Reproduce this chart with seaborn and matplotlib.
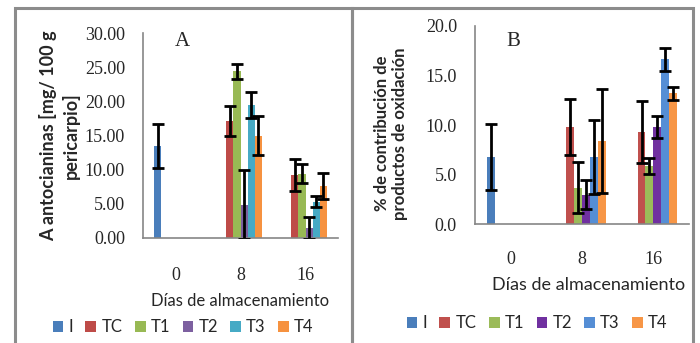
"""
Antocianinas y productos de oxidación durante el almacenamiento (paneles A y B).
"""

import matplotlib
matplotlib.use("Agg")
import matplotlib.pyplot as plt
from matplotlib.container import BarContainer
from matplotlib.patches import Patch, Rectangle
import numpy as np
import pandas as pd
import seaborn as sns

DAYS = ["0", "8", "16"]
TREATMENTS = ["I", "TC", "T1", "T2", "T3", "T4"]

# panel A: antocianinas [mg/100 g pericarpio], one row per treatment, columns = days
antoc_mean = [
    [13.5, np.nan, np.nan],
    [np.nan, 17.1, 9.2],
    [np.nan, 24.4, 9.4],
    [np.nan, 4.9, 1.5],
    [np.nan, 19.4, 5.3],
    [np.nan, 15.0, 7.6],
]
antoc_err = [
    [3.2, np.nan, np.nan],
    [np.nan, 2.2, 2.3],
    [np.nan, 1.1, 1.4],
    [np.nan, 5.0, 1.6],
    [np.nan, 1.9, 0.8],
    [np.nan, 2.9, 1.9],
]

# panel B: % contribución de productos de oxidación
oxid_mean = [
    [6.8, np.nan, np.nan],
    [np.nan, 9.8, 9.3],
    [np.nan, 3.7, 5.9],
    [np.nan, 3.0, 9.8],
    [np.nan, 6.8, 16.6],
    [np.nan, 8.4, 13.2],
]
oxid_err = [
    [3.3, np.nan, np.nan],
    [np.nan, 2.8, 3.1],
    [np.nan, 2.6, 0.8],
    [np.nan, 1.5, 1.15],
    [np.nan, 3.7, 1.15],
    [np.nan, 5.2, 0.65],
]

COLORS_A = ["#4A7EBB", "#BE4B48", "#98B954", "#7D60A0", "#46AAC5", "#F69240"]
COLORS_B = ["#4A7EBB", "#C0504D", "#9BBB59", "#7030A0", "#558ED5", "#F79646"]

SERIF = ["Liberation Serif", "DejaVu Serif"]
SANS = ["Lato", "DejaVu Sans"]
AXIS_GRAY = "#868686"


def to_long(mean):
    rows = []
    for t, vals in zip(TREATMENTS, mean):
        for d, v in zip(DAYS, vals):
            rows.append({"dia": d, "trat": t, "valor": 0.0 if np.isnan(v) else v})
    return pd.DataFrame(rows)


def draw_panel(ax, mean, err, colors, ymax, fmt):
    df = to_long(mean)
    sns.barplot(
        data=df, x="dia", y="valor", hue="trat", order=DAYS, hue_order=TREATMENTS,
        palette=colors, errorbar=None, width=0.66, legend=False, ax=ax,
        saturation=1, linewidth=0,
    )
    # error bars on top of each bar
    bar_conts = [c for c in ax.containers if isinstance(c, BarContainer)]
    for i, cont in enumerate(bar_conts):
        for bar in cont:
            xc = bar.get_x() + bar.get_width() / 2
            j = int(round(xc))
            e = err[i][j]
            if np.isnan(e):
                continue
            ax.errorbar(xc, bar.get_height(), yerr=e, fmt="none", ecolor="black",
                        elinewidth=2, capsize=4.5, capthick=2, zorder=5, clip_on=True)

    ax.set_xlim(-0.5, 2.5)
    ax.set_ylim(0, ymax)
    ax.set_yticks(np.arange(0, ymax + 0.1, 5))
    ax.set_yticklabels([fmt.format(v) for v in np.arange(0, ymax + 0.1, 5)])
    ax.set_xlabel("")
    ax.set_ylabel("")
    for s in ["top", "right"]:
        ax.spines[s].set_visible(False)
    for s in ["left", "bottom"]:
        ax.spines[s].set_color(AXIS_GRAY)
        ax.spines[s].set_linewidth(1.2)
    ax.tick_params(axis="y", length=5, color=AXIS_GRAY, pad=8)
    ax.tick_params(axis="x", length=0)
    for lab in ax.get_yticklabels() + ax.get_xticklabels():
        lab.set_family(SERIF)
        lab.set_fontsize(13)
    ax.set_facecolor("white")


sns.set_style("white")
fig = plt.figure(figsize=(7, 3.43), dpi=100)

W, H = 700, 343


def px_axes(x0, x1, ytop, ybot):
    return fig.add_axes([x0 / W, 1 - ybot / H, (x1 - x0) / W, (ybot - ytop) / H])


# panel frames
for x0, x1 in [(15, 352), (352, 693)]:
    fig.patches.append(Rectangle((x0 / W, -0.05), (x1 - x0) / W, 1 - 8 / H + 0.05,
                                 transform=fig.transFigure, fill=False,
                                 edgecolor="#8C8C8C", linewidth=2.2))

ax_a = px_axes(143, 338, 33, 238)
draw_panel(ax_a, antoc_mean, antoc_err, COLORS_A, 30, "{:.2f}")
ax_a.tick_params(axis="x", pad=21)

ax_b = px_axes(475, 689, 25.7, 224.3)
draw_panel(ax_b, oxid_mean, oxid_err, COLORS_B, 20, "{:.1f}")
ax_b.tick_params(axis="x", pad=19)

# panel letters
fig.text(182 / W, 1 - 42 / H, "A", family=SERIF, fontsize=15, ha="center", va="center")
fig.text(513 / W, 1 - 42 / H, "B", family=SERIF, fontsize=15, ha="center", va="center")

# axis titles
fig.text(59.5 / W, 1 - 136 / H, "A antocianinas [mg/ 100 g\npericarpio]", family=SANS,
         fontsize=13, fontweight="bold", rotation=90, ha="center", va="center",
         multialignment="center", linespacing=1.35)
fig.text(391 / W, 1 - 133.5 / H, "% de contribución de\nproductos de oxidación", family=SANS,
         fontsize=12, fontweight="bold", rotation=90, ha="center", va="center",
         multialignment="center", linespacing=1.1)
fig.text(240 / W, 1 - 301 / H, "Días de almacenamiento", family=SANS, fontsize=12,
         ha="center", va="center")
fig.text(589 / W, 1 - 285 / H, "Días de almacenamiento", family=SANS, fontsize=13,
         ha="center", va="center")

# legends
for colors, xc, yc in [(COLORS_A, 183, 327), (COLORS_B, 537, 323)]:
    handles = [Patch(facecolor=c, edgecolor="none") for c in colors]
    fig.legend(handles, TREATMENTS, loc="center", bbox_to_anchor=(xc / W, 1 - yc / H),
               ncol=6, frameon=False, handlelength=0.65, handleheight=0.65,
               handletextpad=0.3, columnspacing=0.75, borderaxespad=0,
               prop={"family": SANS, "size": 12})

fig.savefig("out.png", dpi=100, facecolor="white")
